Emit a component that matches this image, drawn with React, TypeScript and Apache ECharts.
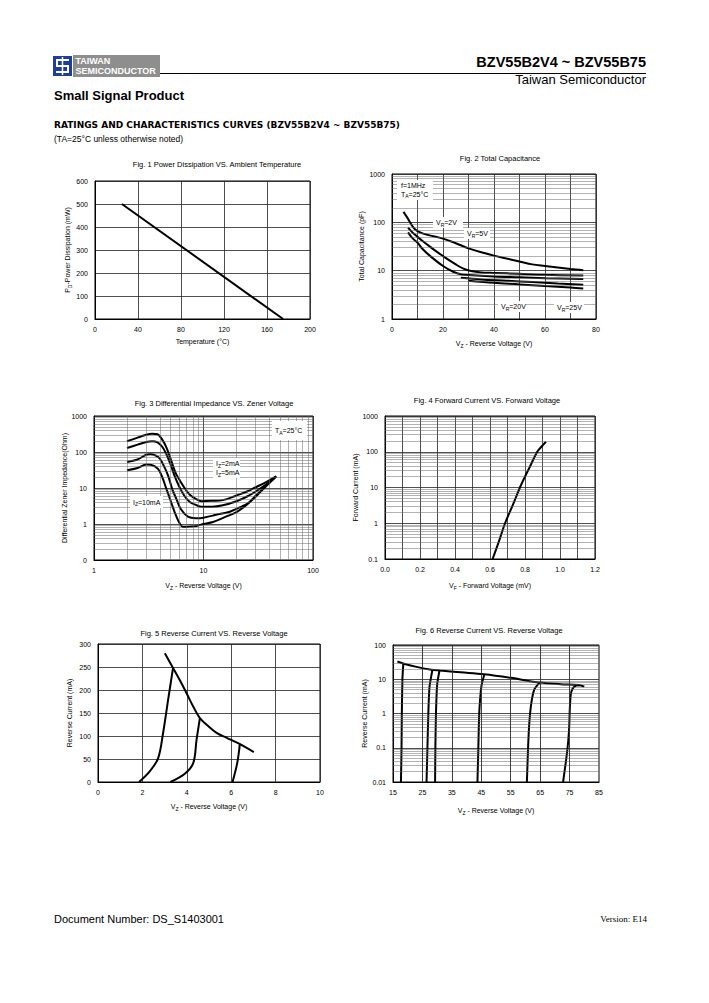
import React, { useEffect, useRef } from 'react';
import * as echarts from 'echarts';

const F = '"Liberation Sans", Arial, Helvetica, sans-serif';

// ---------------- Data ----------------
// Fig 1
const fig1Temperature = [25, 175];
const fig1Power = [500, 0];

// Fig 2 (Vz, pF)
const fig2VR2 = [[4.5, 165], [6, 125], [7.5, 92], [9, 72], [11, 62], [14, 55], [20, 46], [25, 37], [30, 29], [35, 24], [40, 20.5], [50, 15.5], [55, 13.5], [60, 12.5], [70, 10.8], [75, 10.2]];
const fig2VR5 = [[6.3, 78], [8, 62], [10, 50], [12, 41], [15, 31], [20, 20], [25, 13.5], [28, 11], [31, 9.8], [35, 9.2], [40, 9], [50, 8.6], [60, 8.2], [75, 7.9]];
const fig2C3 = [[6.3, 62], [8, 47], [10, 38], [12, 28], [15, 20], [20, 12.5], [24, 9.5], [27, 8.4], [30, 8.1], [40, 7.6], [50, 7.3], [60, 7.0], [75, 6.7]];
const fig2VR20 = [[27, 7.1], [35, 6.6], [45, 6.2], [55, 5.8], [65, 5.4], [75, 5.1]];
const fig2VR25 = [[30, 6.2], [40, 5.6], [50, 5.2], [60, 4.8], [70, 4.5], [75, 4.3]];

// Fig 3 (Vz, Ohm)
const fig3Iz1 = [[2, 198], [2.5, 250], [3, 300], [3.4, 320], [3.8, 310], [4.2, 220], [4.6, 130], [5.1, 55], [5.6, 25], [6.1, 16], [6.8, 9.5], [7.5, 6.5], [8.5, 5], [9.6, 4.3], [12, 4.4], [15, 4.6], [20, 6.2], [25, 8], [30, 10.5], [38, 15], [46, 21]];
const fig3Iz2 = [[2, 129], [2.5, 160], [3, 190], [3.4, 200], [3.8, 185], [4.2, 140], [4.6, 85], [5, 45], [5.5, 20], [6, 11], [6.7, 6], [7.5, 4.1], [8.5, 3.4], [9.6, 3], [12, 3], [15, 3.3], [20, 4.3], [25, 5.8], [30, 8], [38, 13], [46, 21]];
const fig3Iz5 = [[2, 53], [2.5, 62], [3, 84], [3.3, 88], [3.7, 78], [4, 65], [4.4, 38], [4.75, 22], [5.2, 9], [5.65, 5], [6.2, 2.6], [7.2, 1.6], [8.5, 1.45], [10, 1.5], [13, 1.8], [17.4, 2.2], [22, 3], [26.5, 4.1], [32, 7], [38, 12], [46, 21]];
const fig3Iz10 = [[2, 31], [2.5, 36], [3, 44.6], [3.3, 44], [3.84, 34], [4.2, 20], [4.58, 9.5], [5, 4.5], [5.45, 2.15], [6, 1.1], [6.5, 0.83], [7.5, 0.85], [8.6, 0.88], [10, 1], [12.2, 1.14], [16, 1.6], [20, 2.15], [25, 3.5], [30.3, 6.3], [38, 12], [46, 21]];

// Fig 4 (VF, mA)
const fig4Forward = [[0.615, 0.1], [0.65, 0.3], [0.686, 1], [0.73, 3.2], [0.771, 10], [0.795, 18], [0.83, 40], [0.87, 100], [0.895, 140], [0.92, 190]];

// Fig 5 (Vz, mA)
const fig5Envelope = [[3.01, 280], [3.38, 248], [3.7, 220], [3.99, 193], [4.3, 163], [4.59, 139], [5.0, 120], [5.34, 107], [5.8, 96], [6.24, 86], [6.6, 77], [7.02, 65]];
const fig5CurveA = [[1.85, 0], [2.33, 23], [2.71, 52], [2.93, 106], [3.16, 179], [3.38, 248]];
const fig5CurveB = [[3.26, 0], [3.91, 18], [4.29, 41], [4.44, 92], [4.59, 139]];
const fig5CurveC = [[6.06, 0], [6.27, 41], [6.39, 83]];

// Fig 6 (Vz, mA)
const fig6Envelope = [[16.5, 33], [19, 28], [23, 23], [28, 19], [31, 18], [38, 16], [46, 14], [55, 11], [65, 8], [72, 7.2], [78, 6.8], [80, 6.1]];
const fig6V18 = [[17.7, 0.01], [17.9, 0.1], [18.0, 1], [18.2, 10], [18.5, 28]];
const fig6V27 = [[26.4, 0.01], [26.7, 0.1], [27, 1], [27.4, 6], [28.4, 19]];
const fig6V30 = [[29.3, 0.01], [29.4, 0.1], [29.6, 1], [30, 7], [30.8, 18]];
const fig6V45 = [[43.7, 0.01], [44, 0.1], [44.3, 1], [45, 6], [46, 13.5]];
const fig6V62 = [[60.5, 0.01], [60.9, 0.1], [61.3, 0.5], [62, 2], [63, 5], [64.8, 8]];
const fig6V75 = [[72.8, 0.01], [74.2, 0.08], [74.8, 0.3], [75.1, 1.5], [75.4, 3.5], [76, 5.3], [77.2, 6.5], [78.5, 6.7]];

// Fig 6 x grid positions
const fig6XGrid = [25, 35, 45, 55, 65, 75];

// ---------------- Helpers ----------------
const logMinor = (lo: number, hi: number) => {
  const out: number[] = [];
  for (let d = lo; d < hi * 0.999; d *= 10) {
    for (let k = 2; k <= 9; k++) out.push(+(d * k).toPrecision(3));
  }
  return out;
};

const axisRich = {
  a: { fontSize: 7, fontFamily: F, color: '#000', lineHeight: 9 },
  b: { fontSize: 5, fontFamily: F, color: '#000', lineHeight: 6, verticalAlign: 'bottom' },
};

function mkAxis(gridIndex: number, cfg: any) {
  const ax: any = {
    gridIndex,
    type: cfg.log ? 'log' : 'value',
    min: cfg.min,
    max: cfg.max,
    name: cfg.name,
    nameLocation: 'middle',
    nameGap: cfg.gap,
    nameTextStyle: { rich: axisRich, fontSize: 7, color: '#000', fontFamily: F },
    axisLine: { show: true, lineStyle: { color: '#000', width: 1 } },
    axisTick: { show: false },
    axisLabel: {
      fontSize: 7, color: '#000', fontFamily: F, margin: 7,
      showMinLabel: true, showMaxLabel: true, hideOverlap: false,
      formatter: cfg.fmt,
    },
    splitLine: { show: cfg.split !== false, lineStyle: { color: '#222', width: 0.8 } },
  };
  if (cfg.log) ax.logBase = 10;
  else ax.interval = cfg.interval;
  return ax;
}

const logFmt = (v: number) => {
  if (v < 0.05) return '0.01';
  if (v < 0.5) return '0.1';
  return String(Math.round(v));
};

function gridLines(idx: number, origin: number[], xs: number[], ys: number[], color: string, width: number) {
  return {
    type: 'line', xAxisIndex: idx, yAxisIndex: idx, data: [origin], showSymbol: false, symbol: 'none',
    silent: true, z: 1, lineStyle: { opacity: 0 },
    markLine: {
      silent: true, symbol: ['none', 'none'], animation: false, label: { show: false },
      lineStyle: { color, width, type: 'solid' }, emphasis: { disabled: true },
      data: [...xs.map((v) => ({ xAxis: v })), ...ys.map((v) => ({ yAxis: v }))],
    },
  };
}

function curve(idx: number, data: number[][], smooth: number = 0.35) {
  return {
    type: 'line', xAxisIndex: idx, yAxisIndex: idx, data, showSymbol: false, symbol: 'none',
    smooth, silent: true, z: 3, clip: true, lineStyle: { color: '#000', width: 2 },
  };
}

function T(x: number, y: number, text: string, font: string, align: string = 'left', fill: string = '#000') {
  return {
    type: 'text', x, y, z: 102,
    style: { text, font, fill, textAlign: align, align, textVerticalAlign: 'middle', verticalAlign: 'middle' },
  };
}

const gRich = {
  a: { fontSize: 7, fontFamily: F, fill: '#000', lineHeight: 9 },
  b: { fontSize: 5, fontFamily: F, fill: '#000', lineHeight: 6, verticalAlign: 'bottom' },
};

function RT(x: number, y: number, text: string) {
  return {
    type: 'text', x, y, z: 101,
    style: { text, rich: gRich, font: '7px ' + F, fill: '#000', textAlign: 'left', align: 'left', textVerticalAlign: 'middle', verticalAlign: 'middle' },
  };
}

function WBox(x: number, y: number, w: number, h: number) {
  return { type: 'rect', z: 100, shape: { x, y, width: w, height: h }, style: { fill: '#fff' } };
}

function buildOption() {
  const grids = [
    { left: 95, top: 181, width: 215, height: 138 },
    { left: 392, top: 174, width: 204, height: 145 },
    { left: 94, top: 416, width: 219, height: 144 },
    { left: 385, top: 416, width: 210, height: 143 },
    { left: 98, top: 644, width: 222, height: 138 },
    { left: 393, top: 645, width: 206, height: 137 },
  ].map((g) => ({ ...g, show: true, borderColor: '#000', borderWidth: 1, containLabel: false }));

  const xAxis = [
    mkAxis(0, { min: 0, max: 200, interval: 40, name: 'Temperature (°C)', gap: 19 }),
    mkAxis(1, { min: 0, max: 80, interval: 10, name: '{a|V}{b|Z}{a| - Reverse Voltage (V)}', gap: 20, fmt: (v: number) => (Math.round(v) % 20 === 0 ? String(Math.round(v)) : '') }),
    mkAxis(2, { log: true, min: 1, max: 100, name: '{a|V}{b|Z}{a| - Reverse Voltage (V)}', gap: 21, fmt: logFmt }),
    mkAxis(3, { min: 0, max: 1.2, interval: 0.1, name: '{a|V}{b|F}{a| - Forward Voltage (mV)}', gap: 22, fmt: (v: number) => { const k = Math.round(v * 10); return k % 2 === 0 ? (k / 10).toFixed(1) : ''; } }),
    mkAxis(4, { min: 0, max: 10, interval: 2, name: '{a|V}{b|Z}{a| - Reverse Voltage (V)}', gap: 20 }),
    mkAxis(5, { min: 15, max: 85, interval: 5, split: false, name: '{a|V}{b|Z}{a| - Reverse Voltage (V)}', gap: 24, fmt: (v: number) => ((Math.round(v) - 15) % 10 === 0 ? String(Math.round(v)) : '') }),
  ];
  const yAxis = [
    mkAxis(0, { min: 0, max: 600, interval: 100, name: '{a|P}{b|D}{a|-Power Dissipation (mW)}', gap: 21 }),
    mkAxis(1, { log: true, min: 1, max: 1000, name: 'Total Capacitance (pF)', gap: 27, fmt: logFmt }),
    mkAxis(2, { log: true, min: 0.1, max: 1000, name: 'Differential Zener Impedance(Ohm)', gap: 22, fmt: (v: number) => (v < 0.5 ? '0' : String(Math.round(v))) }),
    mkAxis(3, { log: true, min: 0.1, max: 1000, name: 'Forward Current (mA)', gap: 24, fmt: logFmt }),
    mkAxis(4, { min: 0, max: 300, interval: 50, name: 'Reverse Current (mA)', gap: 25 }),
    mkAxis(5, { log: true, min: 0.01, max: 100, name: 'Reverse Current (mA)', gap: 23, fmt: logFmt }),
  ];

  const minorC = '#666';
  const minorW = 0.5;
  const series: any[] = [
    gridLines(1, [0, 1], [], logMinor(1, 1000), minorC, minorW),
    gridLines(2, [1, 0.1], logMinor(1, 100), logMinor(0.1, 1000), minorC, minorW),
    gridLines(3, [0, 0.1], [], logMinor(0.1, 1000), minorC, minorW),
    gridLines(5, [15, 0.01], fig6XGrid, logMinor(0.01, 100), minorC, minorW),
    curve(0, fig1Temperature.map((t, i) => [t, fig1Power[i]]), 0),
    curve(1, fig2VR2), curve(1, fig2VR5), curve(1, fig2C3), curve(1, fig2VR20), curve(1, fig2VR25),
    curve(2, fig3Iz1), curve(2, fig3Iz2), curve(2, fig3Iz5), curve(2, fig3Iz10),
    curve(3, fig4Forward),
    curve(4, fig5Envelope), curve(4, fig5CurveA), curve(4, fig5CurveB), curve(4, fig5CurveC),
    curve(5, fig6Envelope), curve(5, fig6V18, 0.2), curve(5, fig6V27, 0.2), curve(5, fig6V30, 0.2),
    curve(5, fig6V45, 0.2), curve(5, fig6V62, 0.25), curve(5, fig6V75, 0.25),
  ];
  series.push(gridLines(5, [15, 0.01], fig6XGrid, [], '#222', 0.8));

  const titleFont = '7.5px ' + F;
  const graphicEls: any[] = [
    // Logo
    { type: 'rect', z: 100, shape: { x: 53, y: 56, width: 19, height: 20 }, style: { fill: '#1d3f9a' } },
    { type: 'polyline', z: 101, shape: { points: [[69, 60], [57, 60], [57, 66], [68, 66], [68, 72], [56, 72]] }, style: { stroke: '#fff', lineWidth: 2, fill: 'none' } },
    { type: 'line', z: 101, shape: { x1: 62.5, y1: 57, x2: 62.5, y2: 75 }, style: { stroke: '#fff', lineWidth: 1.5 } },
    { type: 'rect', z: 100, shape: { x: 73, y: 55, width: 87, height: 22 }, style: { fill: '#8e8e8e' } },
    { type: 'line', z: 100, shape: { x1: 160, y1: 73.5, x2: 646, y2: 73.5 }, style: { stroke: '#000', lineWidth: 1 } },
    T(75.5, 61, 'TAIWAN', 'bold 9px ' + F, 'left', '#fff'),
    T(75.5, 71, 'SEMICONDUCTOR', 'bold 9px ' + F, 'left', '#fff'),
    // Header
    T(646, 62, 'BZV55B2V4 ~ BZV55B75', 'bold 14.5px ' + F, 'right'),
    T(646, 79, 'Taiwan Semiconductor', '13px ' + F, 'right'),
    T(54, 95, 'Small Signal Product', 'bold 13px ' + F, 'left'),
    T(54, 125, 'RATINGS AND CHARACTERISTICS CURVES (BZV55B2V4 ~ BZV55B75)', 'bold 9px "DejaVu Sans", sans-serif', 'left'),
    T(54, 139, '(TA=25°C unless otherwise noted)', '8.5px ' + F, 'left'),
    // Figure titles
    T(217, 164, 'Fig. 1 Power Dissipation VS. Ambient Temperature', titleFont, 'center'),
    T(500, 158, 'Fig. 2 Total Capacitance', titleFont, 'center'),
    T(214, 403, 'Fig. 3 Differential Impedance VS. Zener Voltage', titleFont, 'center'),
    T(487, 400, 'Fig. 4 Forward Current VS. Forward Voltage', titleFont, 'center'),
    T(214, 633, 'Fig. 5 Reverse Current VS. Reverse Voltage', titleFont, 'center'),
    T(489, 630, 'Fig. 6 Reverse Current VS. Reverse Voltage', titleFont, 'center'),
    // Fig 2 annotations
    WBox(397, 180, 36, 20),
    RT(401, 185, '{a|f=1MHz}'),
    RT(401, 194, '{a|T}{b|A}{a|=25°C}'),
    WBox(433, 217, 30, 11),
    RT(436, 222.5, '{a|V}{b|R}{a|=2V}'),
    WBox(464, 228, 26, 11),
    RT(467, 233.5, '{a|V}{b|R}{a|=5V}'),
    WBox(498, 301, 28, 11),
    RT(501, 306.5, '{a|V}{b|R}{a|=20V}'),
    WBox(554, 302, 30, 11),
    RT(557, 307.5, '{a|V}{b|R}{a|=25V}'),
    // Fig 3 annotations
    WBox(272, 421, 35, 19),
    RT(275, 430.5, '{a|T}{b|A}{a|=25°C}'),
    WBox(213, 458, 27, 20),
    RT(216, 463.5, '{a|I}{b|Z}{a|=2mA}'),
    RT(216, 472.5, '{a|I}{b|Z}{a|=5mA}'),
    WBox(130, 496, 33, 12),
    RT(133, 502, '{a|I}{b|Z}{a|=10mA}'),
    // Footer
    T(54, 919, 'Document Number: DS_S1403001', '11px ' + F, 'left'),
    T(647, 919, 'Version: E14', '9px "Liberation Serif", "Times New Roman", serif', 'right'),
  ];

  return {
    animation: false,
    backgroundColor: '#fff',
    textStyle: { fontFamily: F },
    grid: grids,
    xAxis,
    yAxis,
    series,
    graphic: { z: 100, elements: graphicEls },
  };
}

export default function App() {
  const ref = useRef<HTMLDivElement>(null);
  useEffect(() => {
    const chart = echarts.init(ref.current as HTMLDivElement, null, { renderer: 'svg' });
    chart.setOption(buildOption() as any);
    return () => chart.dispose();
  }, []);
  return <div ref={ref} style={{ position: 'absolute', left: 0, top: 0, width: 709, height: 1003 }} />;
}
